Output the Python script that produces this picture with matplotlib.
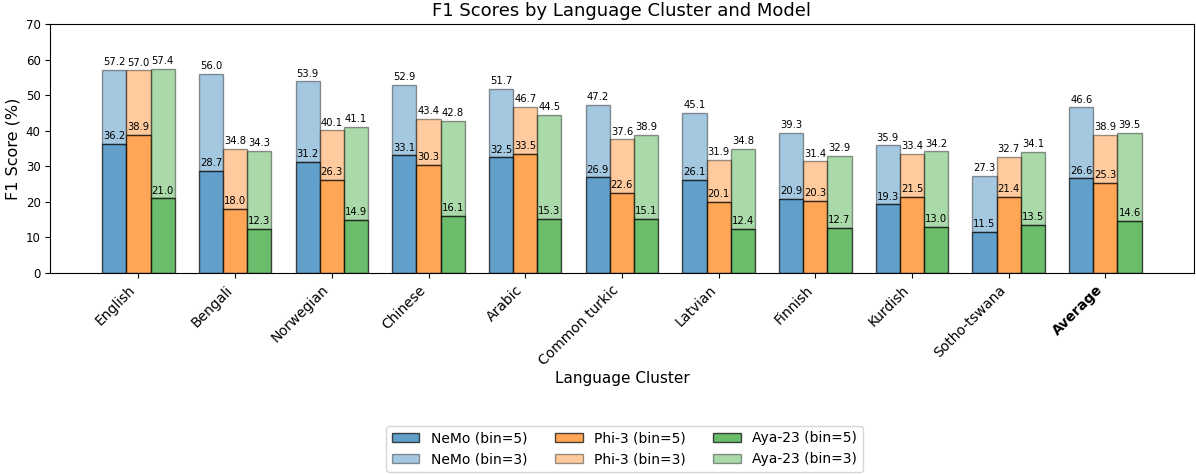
import numpy as np
import matplotlib.pyplot as plt

clusters = ['English', 'Bengali', 'Norwegian', 'Chinese', 'Arabic', 'Common turkic',
            'Latvian', 'Finnish', 'Kurdish', 'Sotho-tswana', 'Average']
models = ['NeMo', 'Phi-3', 'Aya-23']
colors = ['tab:blue', 'tab:orange', 'tab:green']

nemo_bin5 = [36.2, 28.7, 31.2, 33.1, 32.5, 26.9, 26.1, 20.9, 19.3, 11.5, 26.6]
nemo_bin3 = [57.2, 56.0, 53.9, 52.9, 51.7, 47.2, 45.1, 39.3, 35.9, 27.3, 46.6]
phi_bin5 = [38.9, 18.0, 26.3, 30.3, 33.5, 22.6, 20.1, 20.3, 21.5, 21.4, 25.3]
phi_bin3 = [57.0, 34.8, 40.1, 43.4, 46.7, 37.6, 31.9, 31.4, 33.4, 32.7, 38.9]
aya_bin5 = [21.0, 12.3, 14.9, 16.1, 15.3, 15.1, 12.4, 12.7, 13.0, 13.5, 14.6]
aya_bin3 = [57.4, 34.3, 41.1, 42.8, 44.5, 38.9, 34.8, 32.9, 34.2, 34.1, 39.5]

bin5 = [nemo_bin5, phi_bin5, aya_bin5]
bin3 = [nemo_bin3, phi_bin3, aya_bin3]

fig, ax = plt.subplots(figsize=(11.96, 4.74), dpi=100)
x = np.arange(len(clusters))
w = 0.25

handles = []
for i in range(3):
    pos = x + (i - 1) * w
    lo = np.array(bin5[i])
    hi = np.array(bin3[i])
    # light part sits on top of the dark one so colours don't stack
    b3 = ax.bar(pos, hi - lo, w, bottom=lo, color=colors[i], alpha=0.4,
                edgecolor='black', label=f'{models[i]} (bin=3)')
    b5 = ax.bar(pos, lo, w, color=colors[i], alpha=0.7, edgecolor='black',
                label=f'{models[i]} (bin=5)')
    for p, v in zip(pos, hi):
        ax.text(p, v + 0.8, f'{v:.1f}', ha='center', va='bottom', fontsize=7.2)
    for p, v in zip(pos, lo):
        ax.text(p, v + 0.8, f'{v:.1f}', ha='center', va='bottom', fontsize=7.2)
    handles += [b5, b3]

ax.set_ylim(0, 70)
ax.set_xticks(x)
ax.set_xticklabels(clusters, rotation=45, ha='right', fontsize=10)
ax.get_xticklabels()[-1].set_fontweight('bold')
ax.tick_params(axis='y', labelsize=8.5)
ax.set_xlabel('Language Cluster', fontsize=11, labelpad=2)
ax.set_ylabel('F1 Score (%)', fontsize=11.5)
ax.set_title('F1 Scores by Language Cluster and Model', fontsize=13)

fig.subplots_adjust(left=0.042, right=0.998, top=0.949, bottom=0.424)
fig.legend(handles, [h.get_label() for h in handles], loc='lower center', ncol=3,
           fontsize=10, bbox_to_anchor=(0.522, -0.01))
plt.savefig('out.png')
